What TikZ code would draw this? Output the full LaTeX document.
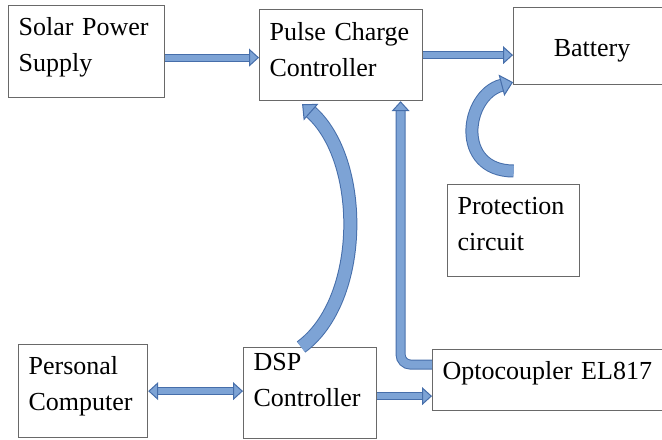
\documentclass[tikz,border=0pt]{standalone}
\usepackage{fontspec}
\setmainfont{Liberation Serif}
\usetikzlibrary{arrows.meta}

\definecolor{arrowfill}{RGB}{125,163,213}
\definecolor{arrowline}{RGB}{70,110,170}
\definecolor{boxline}{RGB}{105,105,105}

\tikzset{
	block/.style={draw=boxline, line width=0.6pt, anchor=north west, align=left,
		inner xsep=5pt, inner ysep=4.8pt, text height=10pt,
		font=\fontsize{13}{18}\selectfont},
	bigarrow/.style={draw=arrowline, line width=0.5pt, double=arrowfill, double distance=#1,
		>={Triangle[length=5pt, width=9pt, fill=arrowfill, line width=0.5pt]}, ->},
	bigarrow/.default=3pt,
	widehead/.style={>={Triangle[length=6pt, width=11pt, fill=arrowfill, line width=0.5pt]}}
}

\begin{document}
\begin{tikzpicture}[x=0.5pt, y=-0.5pt]
	\useasboundingbox (0,0) rectangle (662,439);

	% blocks (positions in px from the top left corner)
	\node[block, text width=68pt, text depth=26.4pt] (solar) at (8,5) {Solar Power\\Supply};
	\node[block, text width=71.5pt, text height=10.5pt, text depth=25.4pt] (pulse) at (259,9) {Pulse Charge\\Controller};
	\node[block, align=center, text width=68.5pt, text height=19.5pt, text depth=9.4pt] (batt) at (513,7) {Battery};
	\node[block, text width=56pt, text depth=26.4pt] (prot) at (447,184) {Protection\\circuit};
	\node[block, text width=54.5pt, text depth=26.9pt] (pc) at (18,344) {Personal\\Computer};
	\node[block, text width=56.5pt, text height=6.5pt, text depth=29.4pt] (dsp) at (243,347) {DSP\\Controller};
	\node[block, text width=115pt, text depth=10.9pt] (opto) at (432,349) {Optocoupler EL817};

	% straight links
	\draw[bigarrow] ([yshift=-3pt]solar.east) -- ([yshift=-3pt]solar.east -| pulse.west);
	\draw[bigarrow] (pulse.east) -- (pulse.east -| batt.west);
	\draw[bigarrow, <->] (pc.east) -- (pc.east -| dsp.west);
	\draw[bigarrow] ([yshift=-1.5pt]dsp.east) -- ([yshift=-1.5pt]dsp.east -| opto.west);

	% feedback to the charge controller
	\draw[bigarrow=4pt, rounded corners=5pt] ([yshift=7.75pt]opto.west) -| ([xshift=29.75pt]pulse.south);
	\draw[bigarrow=6pt, widehead] ([xshift=-4.5pt]dsp.north) .. controls (365,300) and (365,160) .. ([xshift=-19.5pt, yshift=-1.5pt]pulse.south);

	% protection circuit to battery
	\draw[bigarrow=5.5pt, widehead] ([yshift=6.5pt]prot.north) .. controls (455,171) and (465,95) .. ([yshift=1.5pt]batt.south west);
\end{tikzpicture}
\end{document}
